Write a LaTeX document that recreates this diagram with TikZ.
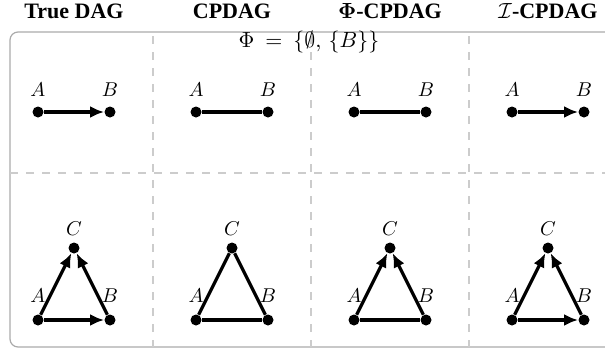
\documentclass[tikz,border=0pt]{standalone}
\usepackage[no-math]{fontspec}
\setmainfont{Liberation Serif}
\usetikzlibrary{arrows.meta}
\definecolor{framec}{HTML}{AAAAAA}
\definecolor{divc}{HTML}{CCCCCC}
\begin{document}
\begin{tikzpicture}[x=0.5pt,y=-0.5pt,
  dot/.style={circle,fill=black,inner sep=0pt,minimum size=5.5pt},
  lt/.style={label={[label distance=1.5pt]above:$#1$}},
  lb/.style={label={[label distance=2.5pt]above:$#1$}},
  lc/.style={label={[label distance=0pt]above:$#1$}},
  arr/.style={line width=1.65pt,-{Latex[length=7pt,width=6pt]}},
  und/.style={line width=1.65pt},
  hdr/.style={anchor=base,inner sep=0pt,font=\bfseries\fontsize{11}{13}\selectfont},
  divider/.style={draw=divc,line width=0.8pt,dash pattern=on 4pt off 4pt}]
\useasboundingbox (0,0) rectangle (605,354);
\clip (0,0) rectangle (605,354);
% frame
\draw[framec,line width=0.6pt,rounded corners=4pt] (10,32) rectangle (650,347);
% dividers
\draw[divider] (153,36) -- (153,347);
\draw[divider] (311,36) -- (311,347);
\draw[divider] (469,36) -- (469,347);
\draw[divider] (10,173) -- (650,173);
% headers
\node[hdr] (h1) at (74,18) {True DAG};
\node[hdr] (h2) at (232,18) {CPDAG};
\node[hdr] (h3) at (390,18) {$\mathbf{\Phi}$-CPDAG};
\node[hdr] (h4) at (548,18) {$\mathcal{I}$-CPDAG};
\node[anchor=base,font=\fontsize{11}{13}\selectfont] (phi) at (309,47) {$\Phi\mkern4mu=\mkern4mu\{\emptyset,\mkern3mu\{B\}\}$};
% nodes
\foreach \c/\i in {74/1,232/2,390/3,548/4}{
  \node[dot,lt=A] (ta\i) at (\c-36,112) {};
  \node[dot,lt=B] (tb\i) at (\c+36,112) {};
  \node[dot,lb=A] (ba\i) at (\c-36,320) {};
  \node[dot,lb=B] (bb\i) at (\c+36,320) {};
  \node[dot,lc=C] (bc\i) at (\c,248) {};
}
% top edges
\draw[arr] (ta1) -- (tb1);
\draw[und] (ta2) -- (tb2);
\draw[und] (ta3) -- (tb3);
\draw[arr] (ta4) -- (tb4);
% bottom edges
\draw[arr] (ba1) -- (bc1);
\draw[arr] (bb1) -- (bc1);
\draw[arr] (ba1) -- (bb1);
\draw[und] (ba2) -- (bc2);
\draw[und] (bb2) -- (bc2);
\draw[und] (ba2) -- (bb2);
\draw[arr] (ba3) -- (bc3);
\draw[arr] (bb3) -- (bc3);
\draw[und] (ba3) -- (bb3);
\draw[arr] (ba4) -- (bc4);
\draw[arr] (bb4) -- (bc4);
\draw[arr] (ba4) -- (bb4);
\end{tikzpicture}
\end{document}
